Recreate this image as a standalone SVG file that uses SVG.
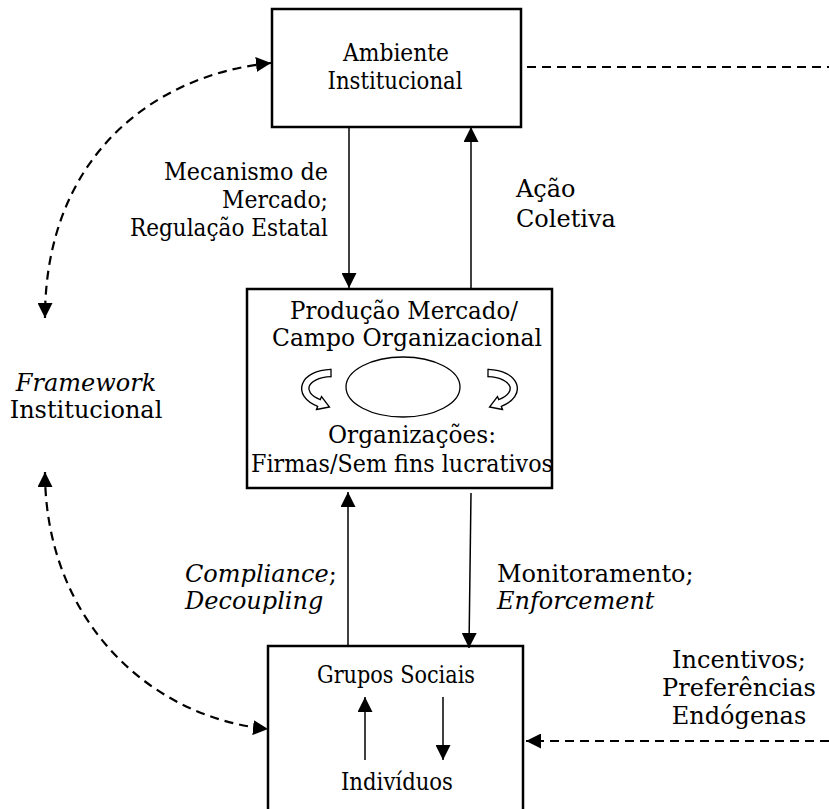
<svg xmlns="http://www.w3.org/2000/svg" width="829" height="809" viewBox="0 0 829 809">
<style>
.box{fill:#fff;stroke:#000;stroke-width:2.5}
.c{text-anchor:middle}
.r{text-anchor:end}
.i{font-style:italic}
.ln{fill:none;stroke:#000;stroke-width:1.5}
.dash{fill:none;stroke:#000;stroke-width:2.2;stroke-dasharray:9 6}
</style>
<defs>
<marker id="ah" viewBox="0 0 15 15" refX="15" refY="7.5" markerWidth="15" markerHeight="15" markerUnits="userSpaceOnUse" orient="auto-start-reverse">
<path d="M0,0 L15,7.5 L0,15 z" fill="#000"/>
</marker>
</defs>

<g font-family="DejaVu Serif, serif" font-size="24" fill="#000">
<g id="ambiente">
<rect class="box" x="272" y="9" width="249" height="118"/>
<text class="c" x="396" y="61" textLength="106" lengthAdjust="spacingAndGlyphs">Ambiente</text>
<text class="c" x="395" y="89" textLength="135" lengthAdjust="spacingAndGlyphs">Institucional</text>
</g>

<g id="producao">
<rect class="box" x="247" y="289" width="305" height="199"/>
<text class="c" x="404" y="319" textLength="228" lengthAdjust="spacingAndGlyphs">Produção Mercado/</text>
<text class="c" x="407" y="346" textLength="270" lengthAdjust="spacingAndGlyphs">Campo Organizacional</text>
<ellipse cx="403" cy="387" rx="57" ry="30" fill="none" stroke="#000" stroke-width="1.3"/>
<g id="loopL">
<path d="M331,373 C303,374 296,394 319,403" fill="none" stroke="#000" stroke-width="8.5"/>
<path d="M316.5,409.5 L329.5,407 L321.5,396.5 z" fill="#fff" stroke="#000" stroke-width="1.3"/>
<path d="M331,373 C303,374 296,394 319,403 L322,404.2" fill="none" stroke="#fff" stroke-width="5.8"/>
<line x1="331" y1="368.7" x2="331" y2="377.3" stroke="#000" stroke-width="1.3"/>
</g>
<g id="loopR" transform="translate(819,0) scale(-1,1)">
<path d="M331,373 C303,374 296,394 319,403" fill="none" stroke="#000" stroke-width="8.5"/>
<path d="M316.5,409.5 L329.5,407 L321.5,396.5 z" fill="#fff" stroke="#000" stroke-width="1.3"/>
<path d="M331,373 C303,374 296,394 319,403 L322,404.2" fill="none" stroke="#fff" stroke-width="5.8"/>
<line x1="331" y1="368.7" x2="331" y2="377.3" stroke="#000" stroke-width="1.3"/>
</g>
<text class="c" x="412" y="443" textLength="168" lengthAdjust="spacingAndGlyphs">Organizações:</text>
<text class="c" x="402" y="472" textLength="302" lengthAdjust="spacingAndGlyphs">Firmas/Sem fins lucrativos</text>
</g>

<g id="grupos">
<rect class="box" x="268" y="646" width="255" height="175"/>
<text class="c" x="396" y="683" textLength="158" lengthAdjust="spacingAndGlyphs">Grupos Sociais</text>
<text class="c" x="397" y="790" textLength="112" lengthAdjust="spacingAndGlyphs">Indivíduos</text>
</g>

<g id="framework">
<text class="c i" x="86" y="391">Framework</text>
<text class="c" x="86" y="418">Institucional</text>
</g>

<g id="labels">
<text class="r" x="328" y="180" textLength="164" lengthAdjust="spacingAndGlyphs">Mecanismo de</text>
<text class="r" x="328" y="208" textLength="106" lengthAdjust="spacingAndGlyphs">Mercado;</text>
<text class="r" x="328" y="236" textLength="198" lengthAdjust="spacingAndGlyphs">Regulação Estatal</text>
<text x="516" y="197">Ação</text>
<text x="516" y="227">Coletiva</text>
<text x="185" y="582"><tspan font-style="italic">Compliance</tspan>;</text>
<text class="i" x="185" y="609">Decoupling</text>
<text x="497" y="582">Monitoramento;</text>
<text class="i" x="497" y="609">Enforcement</text>
<text class="c" x="739" y="668">Incentivos;</text>
<text class="c" x="739" y="696">Preferências</text>
<text class="c" x="739" y="724">Endógenas</text>
</g>
</g>

<g id="connectors">
<line class="ln" x1="349" y1="128" x2="349" y2="288" marker-end="url(#ah)"/>
<line class="ln" x1="471" y1="289" x2="471" y2="127" marker-end="url(#ah)"/>
<line class="ln" x1="348" y1="646" x2="348" y2="492" marker-end="url(#ah)"/>
<line class="ln" x1="471" y1="493" x2="469" y2="648" marker-end="url(#ah)"/>
<line class="ln" x1="365" y1="760" x2="365" y2="697" marker-end="url(#ah)"/>
<line class="ln" x1="443" y1="697" x2="443" y2="760" marker-end="url(#ah)"/>
<path class="dash" d="M527,67 L829,67"/>
<path class="dash" d="M829,741 L526,741" marker-end="url(#ah)"/>
<path class="dash" d="M271,63 C150,75 45,160 45,318" marker-start="url(#ah)" marker-end="url(#ah)"/>
<path class="dash" d="M45,472 C45,620 150,718 268,729" marker-start="url(#ah)" marker-end="url(#ah)"/>
</g>
</svg>
